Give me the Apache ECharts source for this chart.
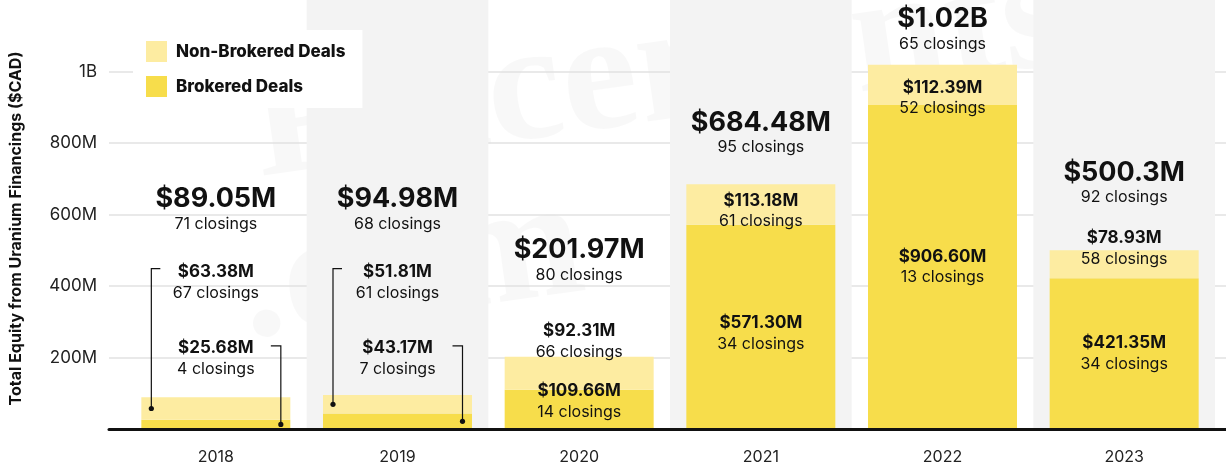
<!DOCTYPE html>
<html><head><meta charset="utf-8">
<script src="https://cdn.jsdelivr.net/npm/echarts@6/dist/echarts.min.js"></script>
<style>html,body{margin:0;padding:0;background:#fff}#c{width:1226px;height:465px}</style>
</head><body><div id="c"></div>
<script>
// ---- data ----
const years = ['2018', '2019', '2020', '2021', '2022', '2023'];
const brokered = [25.68, 43.17, 109.66, 571.30, 906.60, 421.35];          // $M
const brokeredClosings = [4, 7, 14, 34, 13, 34];
const nonBrokered = [63.38, 51.81, 92.31, 113.18, 112.39, 78.93];         // $M
const nonBrokeredClosings = [67, 61, 66, 61, 52, 58];
const totalLabels = ['$89.05M', '$94.98M', '$201.97M', '$684.48M', '$1.02B', '$500.3M'];
const totalClosings = [71, 68, 80, 95, 65, 92];
const yTickValues = [200, 400, 600, 800, 1000];
const yTickLabels = ['200M', '400M', '600M', '800M', '1B'];

// ---- layout (label anchors in axis units, styling) ----
const layout = {
  totalY: [644, 644, 501, 857, 1147, 717],
  nbY: [440, 440, 275, 639, 955, 535],
  bY: [227, 227, 106, 297, 482, 241],
  leader: [true, true, false, false, false, false]
};
const BAR_W = 149;
const INK = '#111';
const FONT = 'Inter, "Noto Sans", sans-serif';

function fmtM(v) { return '$' + v.toFixed(2) + 'M'; }

function txt(s, x, y, size, weight) {
  return { type: 'text', style: { text: s, x: x, y: y, fill: INK, fontSize: size, fontWeight: weight,
    fontFamily: FONT, align: 'center', verticalAlign: 'middle' } };
}

function renderItem(params, api) {
  const i = api.value(0);
  const cx = api.coord([i, 0])[0];
  const ch = [];
  const pT = api.coord([i, layout.totalY[i]])[1];
  ch.push(txt(totalLabels[i], cx, pT, 27, 'bold'));
  ch.push(txt(totalClosings[i] + ' closings', cx, pT + 25, 16, 'normal'));
  const pN = api.coord([i, layout.nbY[i]])[1];
  ch.push(txt(fmtM(nonBrokered[i]), cx, pN, 17, 'bold'));
  ch.push(txt(nonBrokeredClosings[i] + ' closings', cx, pN + 21, 16, 'normal'));
  const pB = api.coord([i, layout.bY[i]])[1];
  ch.push(txt(fmtM(brokered[i]), cx, pB, 17, 'bold'));
  ch.push(txt(brokeredClosings[i] + ' closings', cx, pB + 21, 16, 'normal'));
  if (layout.leader[i]) {
    const half = BAR_W / 2;
    const nbMid = api.coord([i, brokered[i] + nonBrokered[i] / 2])[1];
    const bMid = api.coord([i, brokered[i] / 2])[1];
    const x1 = cx - half + 10, x2 = cx + half - 9.5;
    ch.push({ type: 'polyline', shape: { points: [[x1, nbMid], [x1, pN - 3], [x1 + 9, pN - 3]] },
      style: { stroke: INK, lineWidth: 1.2, fill: null } });
    ch.push({ type: 'circle', shape: { cx: x1, cy: nbMid, r: 2.6 }, style: { fill: INK } });
    ch.push({ type: 'polyline', shape: { points: [[x2, bMid], [x2, pB - 2], [x2 - 10, pB - 2]] },
      style: { stroke: INK, lineWidth: 1.2, fill: null } });
    ch.push({ type: 'circle', shape: { cx: x2, cy: bMid, r: 2.6 }, style: { fill: INK } });
  }
  return { type: 'group', children: ch };
}

const WM_FONT = '"Liberation Serif", "DejaVu Serif", serif';
const WM_FILL = 'rgba(0,0,0,0.028)';

const chart = echarts.init(document.getElementById('c'), null, { renderer: 'canvas' });
chart.setOption({
  backgroundColor: '#ffffff',
  animation: false,
  textStyle: { fontFamily: FONT },
  grid: [
    { left: 125, right: 11, top: 0, bottom: 36 },
    { left: 105, right: 0, top: 0, bottom: 36 }
  ],
  legend: {
    data: ['Non-Brokered Deals', 'Brokered Deals'],
    orient: 'vertical', left: 133, top: 30,
    backgroundColor: '#ffffff', padding: [11, 17, 11, 13],
    itemWidth: 21, itemHeight: 21, itemGap: 14, icon: 'rect',
    textStyle: { fontSize: 17, fontWeight: 800, color: INK, fontFamily: FONT, padding: [0, 0, 0, 4] },
    z: 10, selectedMode: false
  },
  graphic: [{
    type: 'group', x: 262, y: 190, rotation: 8 * Math.PI / 180, z: 1, silent: true,
    children: [
      { type: 'text', x: 0, y: -58, style: { text: 'Placements', fontSize: 170, fontWeight: 'bold', fontFamily: WM_FONT, fill: WM_FILL, verticalAlign: 'middle' } },
      { type: 'text', x: -35, y: 100, style: { text: '.com', fontSize: 170, fontWeight: 'bold', fontFamily: WM_FONT, fill: WM_FILL, verticalAlign: 'middle' } }
    ]
  }],
  xAxis: [
    { type: 'category', data: years, gridIndex: 0, boundaryGap: true,
      axisLine: { show: false }, axisTick: { show: false },
      axisLabel: { fontSize: 16, color: '#222', margin: 20, fontFamily: FONT },
      splitLine: { show: false },
      splitArea: { show: true, interval: 0, areaStyle: { color: ['rgba(255,255,255,0)', '#f3f3f3'] } },
      z: 0 },
    { type: 'value', gridIndex: 1, min: 0, max: 1, show: true,
      axisLine: { show: true, lineStyle: { color: '#111', width: 3 } },
      axisTick: { show: false }, axisLabel: { show: false }, splitLine: { show: false }, z: 5 }
  ],
  yAxis: [
    { type: 'value', gridIndex: 0, min: 0, max: 1200, interval: 200, show: false },
    { type: 'value', gridIndex: 1, min: 0, max: 1200, interval: 200,
      name: 'Total Equity from Uranium Financings ($CAD)', nameLocation: 'middle', nameGap: 85, nameRotate: 90,
      nameTextStyle: { fontSize: 16, fontWeight: 'bold', color: INK, fontFamily: FONT, padding: [0, 28, 0, 0] },
      axisLine: { show: false }, axisTick: { show: false },
      axisLabel: { margin: 12, fontSize: 17, color: '#222', fontFamily: FONT, showMaxLabel: false,
        formatter: function (v) { const k = yTickValues.indexOf(v); return k >= 0 ? yTickLabels[k] : ''; } },
      splitLine: { show: true, showMaxLine: false, showMinLine: false, lineStyle: { color: '#e2e2e2', width: 1.5 } },
      z: 0 }
  ],
  series: [
    { name: 'Brokered Deals', type: 'bar', stack: 'total', xAxisIndex: 0, yAxisIndex: 0,
      barWidth: BAR_W, data: brokered, itemStyle: { color: '#f7dd4b' }, z: 2 },
    { name: 'Non-Brokered Deals', type: 'bar', stack: 'total', xAxisIndex: 0, yAxisIndex: 0,
      barWidth: BAR_W, data: nonBrokered, itemStyle: { color: '#fdeca1' }, z: 2 },
    { name: 'labels', type: 'custom', xAxisIndex: 0, yAxisIndex: 0, renderItem: renderItem,
      data: years.map(function (_, i) { return [i, 0]; }), z: 4, silent: true, clip: false }
  ]
});
</script></body></html>
